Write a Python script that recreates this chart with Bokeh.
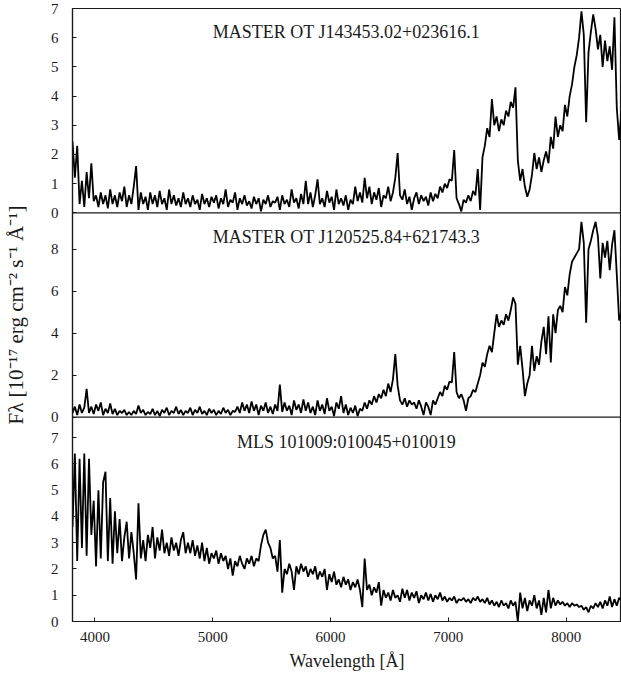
import numpy as np
from bokeh.plotting import figure
from bokeh.models import Range1d, FixedTicker, Label, Span, ColumnDataSource
from bokeh.embed import file_html
from bokeh.resources import INLINE

# ---------------- data ----------------
wavelength = np.arange(3810, 8471, 20)  # Angstrom grid, 3810 ... 8470

flux_j1434 = [
    2.45, 1.2, 2.3, 0.3, 1.1, 0.2, 1.4, 0.5, 1.7, 0.4, 0.6, 0.2, 0.7, 0.3, 0.6, 0.15, 0.8, 0.3, 0.6, 0.2, 0.7, 0.4, 0.9, 0.2, 0.6,
    0.3, 0.9, 1.6, 0.1, 0.7, 0.3, 0.55, 0.1, 0.7, 0.3, 0.6, 0.2, 0.75, 0.3, 0.5, 0.1, 0.8, 0.3, 0.6, 0.25, 0.5, 0.2, 0.7, 0.3, 0.5,
    0.2, 0.6, 0.3, 0.45, 0.1, 0.65, 0.3, 0.5, 0.2, 0.55, 0.35, 0.6, 0.15, 0.5, 0.3, 0.8, 0.2, 0.45, 0.35, 0.7, 0.1, 0.5, 0.3, 0.6, 0.25,
    0.4, 0.15, 0.55, 0.3, 0.5, 0.05, 0.45, 0.3, 0.6, 0.2, 0.4, 0.35, 0.55, 0.1, 0.6, 0.3, 0.45, 0.2, 0.8, 0.35, 0.5, 0.15, 0.65, 0.3, 1.1,
    0.3, 0.7, 0.2, 0.6, 1.15, 0.3, 0.5, 0.2, 0.75, 0.35, 0.55, 0.1, 0.8, 0.3, 0.5, 0.25, 0.6, 0.1, 0.45, 0.3, 0.9, 0.4, 0.7, 0.35, 1.2,
    0.5, 0.9, 0.3, 0.7, 0.45, 0.85, 0.2, 0.6, 0.5, 0.9, 0.4, 0.7, 1.2, 2.05, 0.6, 0.45, 0.8, 0.3, 0.55, 0.1, 0.5, 0.7, 0.3, 0.6, 0.4,
    0.55, 0.25, 0.7, 0.4, 0.65, 0.5, 0.9, 0.7, 1.0, 0.85, 1.15, 1.1, 2.15, 0.5, 0.3, 0.05, 0.45, 0.35, 0.6, 0.4, 0.75, 0.6, 1.5, 0.1, 1.9,
    2.3, 2.9, 2.6, 3.9, 3.0, 3.3, 2.8, 3.2, 3.0, 3.5, 3.3, 3.8, 3.6, 4.3, 1.8, 1.1, 1.5, 0.9, 0.55, 0.8, 1.3, 2.05, 1.5, 1.9, 1.4,
    1.8, 2.1, 1.7, 2.6, 2.2, 3.3, 2.6, 3.0, 2.8, 3.7, 3.3, 4.0, 4.4, 5.0, 5.4, 6.0, 6.9, 6.1, 3.1, 5.5, 6.2, 6.8, 6.3, 5.6, 6.1,
    5.0, 5.9, 5.2, 5.7, 4.9, 6.7, 3.6, 2.5, 3.5,
]

flux_j1205 = [
    0.2, 0.5, 0.1, 0.6, 0.2, 0.45, 1.35, 0.2, 0.5, 0.15, 0.6, 0.3, 0.7, 0.1, 0.4, 0.2, 0.65, 0.15, 0.4, 0.1, 0.3, 0.2, 0.35, 0.1, 0.25,
    0.1, 0.3, 0.15, 0.55, 0.2, 0.35, 0.1, 0.25, 0.15, 0.4, 0.1, 0.3, 0.05, 0.35, 0.2, 0.45, 0.1, 0.3, 0.2, 0.5, 0.15, 0.35, 0.1, 0.3, 0.2,
    0.45, 0.1, 0.35, 0.2, 0.5, 0.15, 0.3, 0.1, 0.4, 0.2, 0.35, 0.1, 0.3, 0.15, 0.45, 0.2, 0.35, 0.1, 0.3, 0.25, 0.5, 0.2, 0.7, 0.3, 0.6,
    0.2, 0.75, 0.3, 0.6, 0.1, 0.55, 0.3, 0.7, 0.2, 0.5, 0.15, 0.6, 0.3, 1.55, 0.25, 0.7, 0.3, 0.55, 0.1, 0.8, 0.35, 0.6, 0.2, 0.85, 0.3,
    0.7, 0.2, 0.5, 0.1, 0.8, 0.3, 0.6, 0.15, 0.9, 0.3, 0.5, 0.05, 0.7, 0.4, 1.0, 0.2, 0.6, 0.1, 0.45, 0.2, 0.55, 0.05, 0.4, 0.3, 0.7,
    0.4, 0.8, 0.6, 1.0, 0.7, 1.1, 0.9, 1.3, 1.0, 1.6, 1.2, 1.8, 3.0, 1.5, 0.8, 0.6, 0.9, 0.5, 0.8, 0.6, 0.7, 0.4, 0.8, 0.5, 0.1,
    0.7, 0.5, 0.1, 0.8, 0.6, 0.9, 1.2, 1.0, 1.5, 1.3, 1.7, 1.65, 3.1, 1.2, 0.9, 1.1, 0.8, 0.3, 0.9, 1.0, 1.3, 1.2, 1.6, 2.0, 2.6,
    2.4, 3.0, 3.4, 3.1, 4.0, 4.9, 4.3, 4.6, 4.4, 4.9, 4.6, 5.1, 5.7, 5.4, 2.5, 3.4, 2.3, 1.0, 1.6, 2.0, 3.4, 2.2, 2.9, 2.5, 3.6,
    4.3, 3.0, 4.8, 2.6, 4.9, 4.0, 5.1, 5.3, 5.0, 6.2, 5.8, 6.8, 7.4, 7.6, 7.8, 8.0, 9.3, 8.3, 4.5, 8.0, 8.4, 8.9, 9.3, 8.6, 6.6,
    8.3, 7.6, 8.4, 7.0, 8.2, 8.9, 6.8, 4.6, 5.0,
]

flux_mls = [
    3.6, 6.4, 2.3, 6.2, 2.8, 6.4, 2.5, 6.2, 3.3, 4.6, 2.1, 5.0, 2.4, 5.3, 5.7, 2.3, 4.7, 2.2, 4.2, 2.6, 3.9, 2.3, 3.2, 3.8, 2.4,
    3.4, 2.6, 1.6, 4.5, 2.4, 3.1, 2.3, 3.3, 2.8, 3.6, 2.4, 3.2, 2.7, 3.5, 2.6, 3.0, 2.5, 3.2, 2.7, 3.0, 2.5, 3.1, 3.4, 2.6, 3.0,
    2.6, 3.1, 2.5, 2.9, 2.4, 3.0, 2.3, 2.8, 2.2, 2.6, 2.4, 2.7, 2.2, 2.6, 2.3, 2.5, 2.0, 2.4, 1.75, 2.3, 2.1, 2.5, 2.2, 2.0, 2.4,
    2.2, 2.5, 2.1, 2.4, 2.3, 2.9, 3.3, 3.5, 3.0, 2.8, 2.4, 2.5, 1.9, 3.1, 1.1, 2.0, 1.8, 2.2, 1.9, 1.2, 2.1, 1.8, 2.2, 1.9, 2.1,
    1.7, 2.0, 1.8, 2.1, 1.6, 1.9, 1.7, 2.0, 1.2, 1.8, 1.5, 1.9, 1.4, 1.6, 1.3, 1.7, 1.4, 1.6, 1.2, 1.5, 1.3, 1.6, 1.2, 0.55, 2.4,
    1.2, 1.4, 1.0, 1.3, 1.1, 1.5, 0.6, 1.2, 0.9, 1.1, 0.8, 1.2, 0.9, 1.0, 0.75, 1.25, 0.9, 1.2, 0.8, 1.1, 0.9, 1.15, 0.7, 1.0, 0.85,
    1.1, 0.8, 1.05, 0.75, 1.0, 0.85, 1.1, 0.8, 0.95, 0.75, 0.9, 0.8, 0.95, 0.7, 0.85, 0.8, 0.9, 0.75, 0.85, 0.7, 0.9, 0.8, 0.95, 0.75, 0.85,
    0.7, 0.9, 0.65, 0.8, 0.6, 0.75, 0.55, 0.8, 0.6, 0.7, 0.5, 0.8, 0.6, 0.75, 0.0, 1.1, 0.5, 0.9, 0.4, 0.8, 0.6, 1.0, 0.5, 0.8, 0.25,
    0.9, 0.35, 1.2, 0.5, 0.9, 0.6, 0.8, 0.65, 0.75, 0.6, 0.7, 0.55, 0.7, 0.6, 0.65, 0.55, 0.6, 0.45, 0.55, 0.35, 0.6, 0.5, 0.7, 0.55, 0.75,
    0.5, 0.8, 0.6, 0.95, 0.55, 0.85, 0.6, 0.9, 0.8,
]

panel_names = ["MASTER OT J143453.02+023616.1", "MASTER OT J120525.84+621743.3", "MLS 101009:010045+010019"]
panel_flux = [flux_j1434, flux_j1205, flux_mls]
panel_tops = [7.0, 9.73, 7.78]
panel_ticks = [[0, 1, 2, 3, 4, 5, 6, 7], [0, 2, 4, 6, 8], [0, 1, 2, 3, 4, 5, 6, 7]]
name_x = 6135
name_y = [6.18, 8.56, 6.84]
x_ticks = [4000, 5000, 6000, 7000, 8000]
x_lim = (3810, 8470)

FONT = "Liberation Serif"
INK = "#1a1a1a"

# ---------------- figure ----------------
n_panels = len(panel_names)
p = figure(frame_width=549, frame_height=613,
           x_range=Range1d(*x_lim), y_range=Range1d(0, n_panels),
           output_backend="svg", toolbar_location=None,
           min_border_left=68, min_border_right=0, min_border_top=8, min_border_bottom=54,
           background_fill_color="white", border_fill_color="white",
           outline_line_color=INK, outline_line_width=1.2)
p.grid.visible = False

tick_pos = []
overrides = {}
for i, (name, flux, top, ticks) in enumerate(zip(panel_names, panel_flux, panel_tops, panel_ticks)):
    slot = n_panels - 1 - i
    rname = f"panel{i}"
    p.extra_y_ranges[rname] = Range1d(-slot * top, (n_panels - slot) * top)
    src = ColumnDataSource(dict(w=wavelength, f=np.asarray(flux, dtype=float)))
    p.line("w", "f", source=src, y_range_name=rname, line_color="black", line_width=1.8)
    p.add_layout(Label(x=name_x, y=name_y[i], y_range_name=rname, text=name,
                       text_align="center", text_baseline="middle",
                       text_font=FONT, text_font_size="18px", text_color=INK))
    for k in ticks:
        pos = slot + k / top
        tick_pos.append(pos)
        overrides[pos] = str(k)
    if slot > 0:
        p.add_layout(Span(location=slot, dimension="width", line_color=INK, line_width=1.2))

yax = p.yaxis[0]
yax.ticker = FixedTicker(ticks=tick_pos)
yax.major_label_overrides = overrides
yax.minor_tick_line_color = None
yax.major_tick_in = 4
yax.major_tick_out = 0
yax.major_label_standoff = 14
yax.axis_line_color = INK
yax.axis_line_width = 1.2
yax.major_tick_line_color = INK
yax.major_label_text_font = FONT
yax.major_label_text_font_size = "15px"
yax.major_label_text_color = INK
yax.axis_label = "Fλ [10⁻¹⁷ erg cm⁻² s⁻¹ Å⁻¹]"
yax.axis_label_text_font = FONT
yax.axis_label_text_font_size = "21px"
yax.axis_label_text_font_style = "normal"
yax.axis_label_text_color = INK
yax.axis_label_standoff = 20

xax = p.xaxis[0]
xax.ticker = FixedTicker(ticks=x_ticks)
xax.minor_tick_line_color = None
xax.major_tick_in = 4
xax.major_tick_out = 0
xax.major_label_standoff = 10
xax.axis_line_color = INK
xax.axis_line_width = 1.2
xax.major_tick_line_color = INK
xax.major_label_text_font = FONT
xax.major_label_text_font_size = "15px"
xax.major_label_text_color = INK
xax.axis_label = "Wavelength [Å]"
xax.axis_label_text_font = FONT
xax.axis_label_text_font_size = "18px"
xax.axis_label_text_font_style = "normal"
xax.axis_label_text_color = INK
xax.axis_label_standoff = 6

open("out.html", "w").write(file_html(p, INLINE))
